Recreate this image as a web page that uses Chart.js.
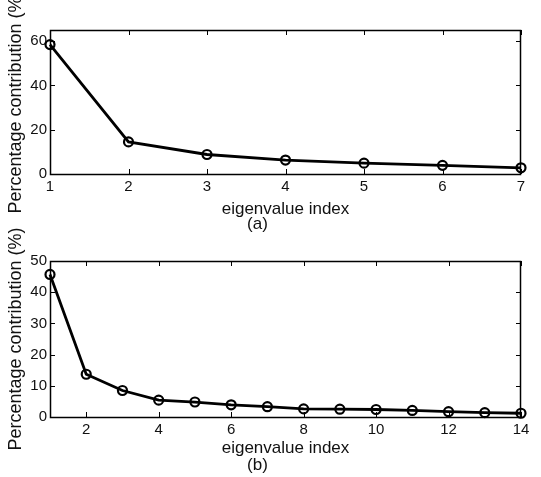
<!DOCTYPE html>
<html>
<head>
<meta charset="utf-8">
<script src="https://cdn.jsdelivr.net/npm/chart.js@4.4.0/dist/chart.umd.min.js"></script>
<style>
  body { margin: 0; background: #fff; }
  #wrap { position: relative; width: 541px; height: 477px; }
  canvas { position: absolute; left: 0; }
  #chartA { top: 0; }
  #chartB { top: 200px; }
</style>
</head>
<body>
<div id="wrap">
  <canvas id="chartA" width="541" height="250"></canvas>
  <canvas id="chartB" width="541" height="277"></canvas>
</div>
<script>
// (a) 7 eigenvalues
var indexA = [1, 2, 3, 4, 5, 6, 7];
var percentA = [58.4, 14.5, 8.8, 6.3, 4.9, 3.9, 2.8];
var xTicksA = [1, 2, 3, 4, 5, 6, 7];
var yTicksA = [0, 20, 40, 60];

// (b) 14 eigenvalues
var indexB = [1, 2, 3, 4, 5, 6, 7, 8, 9, 10, 11, 12, 13, 14];
var percentB = [45.7, 13.7, 8.5, 5.4, 4.8, 3.9, 3.3, 2.6, 2.5, 2.4, 2.1, 1.7, 1.4, 1.2];
var xTicksB = [2, 4, 6, 8, 10, 12, 14];
var yTicksB = [0, 10, 20, 30, 40, 50];

Chart.defaults.font.family = "'Liberation Sans', Arial, sans-serif";
Chart.defaults.color = '#111';

// matlab style box with inward ticks + the (a)/(b) caption
var boxTicks = {
  id: 'boxTicks',
  beforeDatasetsDraw: function (chart, args, opts) {
    var ctx = chart.ctx, a = chart.chartArea;
    var xs = chart.scales.x, ys = chart.scales.y;
    var len = 5;
    ctx.save();
    ctx.strokeStyle = '#000';
    ctx.lineWidth = 1.5;
    ctx.strokeRect(a.left + 0.5, a.top + 0.5, a.right - a.left - 1, a.bottom - a.top);
    ctx.lineWidth = 1;
    ctx.beginPath();
    xs.ticks.forEach(function (t) {
      var px = Math.round(xs.getPixelForValue(t.value)) + 0.5;
      ctx.moveTo(px, a.bottom); ctx.lineTo(px, a.bottom - len);
      ctx.moveTo(px, a.top); ctx.lineTo(px, a.top + len);
    });
    ys.ticks.forEach(function (t) {
      var py = Math.round(ys.getPixelForValue(t.value)) + 0.5;
      ctx.moveTo(a.left, py); ctx.lineTo(a.left + len, py);
      ctx.moveTo(a.right, py); ctx.lineTo(a.right - len, py);
    });
    ctx.stroke();
    ctx.restore();
  },
  afterDraw: function (chart, args, opts) {
    var ctx = chart.ctx, a = chart.chartArea;
    ctx.save();
    ctx.fillStyle = '#111';
    ctx.font = "17px 'Liberation Sans', Arial, sans-serif";
    ctx.textAlign = 'center';
    ctx.textBaseline = 'middle';
    ctx.fillText(opts.text, (a.left + a.right) / 2 - 28, a.bottom + opts.dy);
    ctx.restore();
  }
};

function makeChart(id, xs, ys, xTicks, yTicks, xMax, yMax, padTop, xHeight, titlePad, caption, capDy) {
  return new Chart(document.getElementById(id), {
    type: 'line',
    data: {
      datasets: [{
        data: xs.map(function (x, i) { return { x: x, y: ys[i] }; }),
        borderColor: '#000',
        borderWidth: 2.8,
        pointRadius: 4.5,
        pointBorderWidth: 2.2,
        pointBorderColor: '#000',
        pointBackgroundColor: 'rgba(0,0,0,0)',
        tension: 0,
        clip: false
      }]
    },
    options: {
      responsive: false,
      animation: false,
      layout: { padding: { top: padTop, right: 20, bottom: 0, left: 0 } },
      plugins: {
        legend: { display: false },
        tooltip: { enabled: false },
        boxTicks: { text: caption, dy: capDy }
      },
      scales: {
        x: {
          type: 'linear',
          min: 1,
          max: xMax,
          afterBuildTicks: function (s) { s.ticks = xTicks.map(function (v) { return { value: v }; }); },
          afterFit: function (s) { s.height = xHeight; },
          grid: { display: false, drawTicks: false },
          border: { display: false },
          ticks: { font: { size: 15 }, padding: 4, maxRotation: 0, autoSkip: false },
          title: { display: true, text: 'eigenvalue index', font: { size: 17 }, padding: { top: 0, bottom: titlePad } }
        },
        y: {
          min: 0,
          max: yMax,
          afterBuildTicks: function (s) { s.ticks = yTicks.map(function (v) { return { value: v }; }); },
          afterFit: function (s) { s.width = 50; },
          grid: { display: false, drawTicks: false },
          border: { display: false },
          ticks: { font: { size: 15 }, padding: 3 },
          title: { display: true, text: 'Percentage contribution (%)', font: { size: 18 }, padding: { top: 5, bottom: 0 } }
        }
      }
    },
    plugins: [boxTicks]
  });
}

makeChart('chartA', indexA, percentA, xTicksA, yTicksA, 7, 65, 30, 76, 30, '(a)', 50);
makeChart('chartB', indexB, percentB, xTicksB, yTicksB, 14, 50, 61, 60, 18, '(b)', 48);
</script>
</body>
</html>
